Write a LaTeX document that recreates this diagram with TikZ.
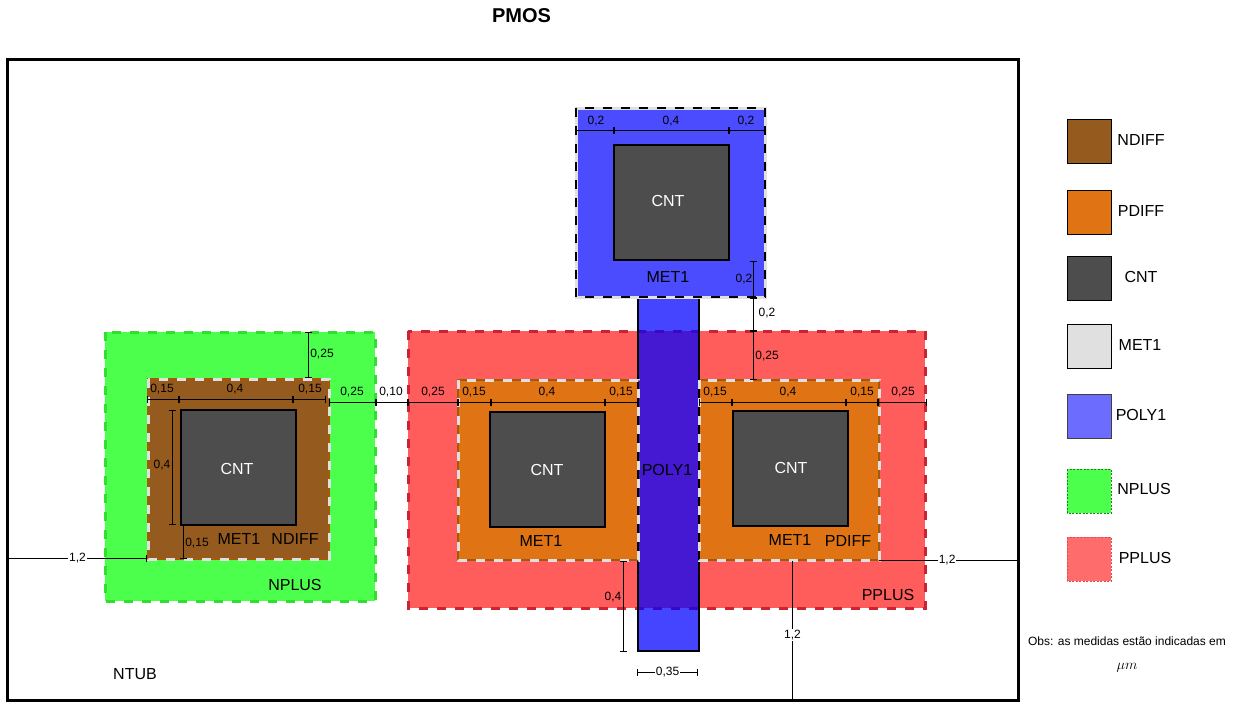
\documentclass[tikz,border=0pt]{standalone}
\usepackage{xcolor}
\usepackage{fontspec}
\setmainfont{Liberation Sans}
\usetikzlibrary{arrows.meta}
\definecolor{ndiffcol}{HTML}{955A1E}
\definecolor{ndiffedge}{HTML}{A85808}
\definecolor{pdiffcol}{HTML}{E07414}
\definecolor{pdiffedge}{HTML}{A05A0C}
\definecolor{cntcol}{HTML}{4D4D4D}
\definecolor{metcol}{HTML}{E0E0E0}
\definecolor{polycol}{HTML}{4C4CFF}
\definecolor{polykey}{HTML}{6C6CFF}
\definecolor{npluscol}{HTML}{4CFF4C}
\definecolor{nplusedge}{HTML}{2FE02F}
\definecolor{ppluscol}{HTML}{FF5C5C}
\definecolor{pplusedge}{HTML}{CC2233}
\definecolor{ppluskey}{HTML}{FF6C6C}
\tikzset{
	dashbox/.style={line width=3pt,dash pattern=on 9pt off 9pt},
	metdash/.style={draw=metcol,line width=3pt,dash pattern=on 9pt off 9pt},
	cntbox/.style={fill=cntcol,draw=black,line width=2.4pt},
	keybox/.style={draw=black,line width=1pt},
	layertext/.style={font=\fontsize{16}{18}\selectfont,text=black,inner sep=0pt},
	cnttext/.style={layertext,text=white},
	dimtext/.style={font=\fontsize{12}{14}\selectfont,inner sep=0pt},
	dimback/.style={dimtext,fill=white,inner sep=1pt},
	dimline/.style={line width=0.9pt,{Bar[width=7pt,line width=0.9pt]}-{Bar[width=7pt,line width=0.9pt]}},
	dimend/.style={line width=0.9pt,-{Bar[width=7pt,line width=0.9pt]}},
	dimfree/.style={line width=0.9pt}
}
\begin{document}
\begin{tikzpicture}[x=1pt,y=-1pt]
	\useasboundingbox (0,0) rectangle (1248,712);
	\node (title) [font=\bfseries\fontsize{20}{22}\selectfont,inner sep=0pt] at (521.5,15.5) {PMOS};
	\draw[line width=3pt] (7.5,59) rectangle (1018,700);

	% implants
	\fill[ppluscol] (408,331) rectangle (925,608);
	\draw[pplusedge,dashbox] (408,331) rectangle (925,608);
	\fill[npluscol] (105,332) rectangle (375,601);
	\draw[nplusedge,dashbox] (105,332) rectangle (375,601);

	% diffusions
	\draw[fill=ndiffcol,draw=ndiffedge,line width=2.4pt] (148,379) rectangle (329,559);
	\draw[fill=pdiffcol,draw=pdiffedge,line width=2.4pt] (458,380) rectangle (638,560);
	\draw[fill=pdiffcol,draw=pdiffedge,line width=2.4pt] (699,380) rectangle (879,560);

	% poly gate and its pad
	\fill[blue,opacity=.73] (638,297) rectangle (699,651);
	\draw[line width=2.4pt] (638,297) -- (638,651) -- (699,651) -- (699,297);
	\fill[polycol] (576,108) rectangle (765,297);
	\draw[metcol,line width=3pt] (576,108) rectangle (765,297);
	\draw[black,line width=2.6pt,dash pattern=on 9pt off 9pt] (576,108) rectangle (765,297);

	% metal outlines
	\foreach \xa/\ya/\xb/\yb in {148/379/329/559,458/380/638/560,699/380/879/560}
		\draw[metdash] (\xa,\ya) rectangle (\xb,\yb);

	% contacts
	\foreach \xa/\ya in {181/410,490/412,733/411,614/145}
		\draw[cntbox] (\xa,\ya) rectangle +(115,115);

	\node (cntn) [cnttext] at (237,469) {CNT};
	\node (cntl) [cnttext] at (547,470) {CNT};
	\node (cntr) [cnttext] at (791,468) {CNT};
	\node (cntt) [cnttext] at (668,201) {CNT};
	\node (metn) [layertext] at (239,539) {MET1};
	\node (metl) [layertext] at (541,541) {MET1};
	\node (metr) [layertext] at (790,540) {MET1};
	\node (mett) [layertext] at (668,277) {MET1};
	\node (ndiff) [layertext] at (295,539) {NDIFF};
	\node (pdiff) [layertext] at (848,541) {PDIFF};
	\node (nplus) [layertext] at (295,585) {NPLUS};
	\node (pplus) [layertext] at (888,595) {PPLUS};
	\node (poly) [layertext] at (667,470) {POLY1};
	\node (ntub) [layertext] at (135,674) {NTUB};

	% dimension points
	\foreach \name/\x in {ta/576,tb/614,tc/729,td/765}
		\coordinate (\name) at (\x,130);
	\foreach \name/\x in {na/147,nb/179,nc/293,nd/326}
		\coordinate (\name) at (\x,399);
	\foreach \name/\x in {ga/329,gb/376,gc/408,gd/458,ge/491,gf/605,gg/638,gh/699,gi/732,gj/846,gk/878,gl/927}
		\coordinate (\name) at (\x,402);
	\foreach \name/\y in {va/261,vb/298,vc/331,vd/380}
		\coordinate (\name) at (753,\y);
	\coordinate (ua) at (308.5,332);
	\coordinate (ub) at (308.5,378);
	\coordinate (wa) at (172,410);
	\coordinate (wb) at (172,525);
	\coordinate (xa) at (183.5,525);
	\coordinate (xb) at (183.5,559);
	\coordinate (ya) at (8,558);
	\coordinate (yb) at (147,558);
	\coordinate (za) at (879,560);
	\coordinate (zb) at (1018,560);
	\coordinate (qa) at (623.5,561);
	\coordinate (qb) at (623.5,652);
	\coordinate (ra) at (637,672);
	\coordinate (rb) at (698,672);
	\coordinate (sa) at (792.5,561);
	\coordinate (sb) at (792.5,700);

	\draw[dimline] (ta) -- (tb);
	\draw[dimline] (tb) -- (tc);
	\draw[dimline] (tc) -- (td);
	\draw[dimline] (na) -- (nb);
	\draw[dimline] (nb) -- (nc);
	\draw[dimline] (nc) -- (nd);
	\draw[dimline] (ga) -- (gb);
	\draw[dimline] (gb) -- (gc);
	\draw[dimline] (gc) -- (gd);
	\draw[dimline] (gd) -- (ge);
	\draw[dimline] (ge) -- (gf);
	\draw[dimline] (gf) -- (gg);
	\draw[dimline] (gh) -- (gi);
	\draw[dimline] (gi) -- (gj);
	\draw[dimline] (gj) -- (gk);
	\draw[dimline] (gk) -- (gl);
	\draw[dimline] (va) -- (vb);
	\draw[dimline] (vb) -- (vc);
	\draw[dimline] (vc) -- (vd);
	\draw[dimline] (ua) -- (ub);
	\draw[dimline] (wa) -- (wb);
	\draw[dimline] (xa) -- (xb);
	\draw[dimend] (ya) -- node[dimback,pos=.5] (lena) {1,2} (yb);
	\draw[dimfree] (za) -- node[dimback,pos=.49] (lenb) {1,2} (zb);
	\draw[dimline] (qa) -- (qb);
	\draw[dimline] (ra) -- node[dimback,pos=.5] (lenc) {0,35} (rb);
	\draw[dimfree] (sa) -- node[dimback,pos=.53] (lend) {1,2} (sb);

	\node (da) [dimtext] at (596,121) {0,2};
	\node (db) [dimtext] at (671,121) {0,4};
	\node (dc) [dimtext] at (746,121) {0,2};
	\node (dd) [dimtext] at (744,279) {0,2};
	\node (de) [dimtext] at (767,313) {0,2};
	\node (df) [dimtext] at (767,356) {0,25};
	\node (dg) [dimtext] at (322,354) {0,25};
	\node (dh) [dimtext] at (162,389) {0,15};
	\node (di) [dimtext] at (235,389) {0,4};
	\node (dj) [dimtext] at (310,389) {0,15};
	\node (dk) [dimtext] at (352,392) {0,25};
	\node (dl) [dimtext] at (391,392) {0,10};
	\node (dm) [dimtext] at (433,392) {0,25};
	\node (dn) [dimtext] at (474,392) {0,15};
	\node (dp) [dimtext] at (547,392) {0,4};
	\node (dq) [dimtext] at (621,392) {0,15};
	\node (dr) [dimtext] at (715,392) {0,15};
	\node (ds) [dimtext] at (788,392) {0,4};
	\node (dt) [dimtext] at (862,392) {0,15};
	\node (du) [dimtext] at (903,392) {0,25};
	\node (dv) [dimtext] at (162,465) {0,4};
	\node (dw) [dimtext] at (197,543) {0,15};
	\node (dx) [dimtext] at (613,597) {0,4};

	% legend
	\draw[keybox,fill=ndiffcol] (1067,119.5) rectangle +(44,44);
	\draw[keybox,fill=pdiffcol] (1067,190.5) rectangle +(44,44);
	\draw[keybox,fill=cntcol] (1067,256.5) rectangle +(44,44);
	\draw[keybox,fill=metcol] (1067,324.5) rectangle +(44,44);
	\draw[keybox,fill=polykey,draw=black!75] (1067,394.5) rectangle +(44,44);
	\fill[npluscol] (1067,469) rectangle +(44,44);
	\draw[nplusedge!60!black,line width=.8pt,dash pattern=on 2pt off 1.5pt] (1067,469) rectangle +(44,44);
	\fill[ppluskey] (1067,537) rectangle +(44,44);
	\draw[pplusedge!50!ppluskey,line width=.8pt,dash pattern=on 2pt off 1.5pt] (1067,537) rectangle +(44,44);
	\node (keya) [layertext] at (1141,140) {NDIFF};
	\node (keyb) [layertext] at (1141,211) {PDIFF};
	\node (keyc) [layertext] at (1141,277) {CNT};
	\node (keyd) [layertext] at (1140,345) {MET1};
	\node (keye) [layertext] at (1141,415) {POLY1};
	\node (keyf) [layertext] at (1144,489) {NPLUS};
	\node (keyg) [layertext] at (1145,558) {PPLUS};
	\node (obs) [font=\fontsize{12}{14}\selectfont,inner sep=0pt] at (1127,641) {Obs: as medidas estão indicadas em};
	\node (unit) [font=\fontsize{14}{16}\selectfont,inner sep=0pt] at (1127,668) {$\mu m$};
\end{tikzpicture}
\end{document}
